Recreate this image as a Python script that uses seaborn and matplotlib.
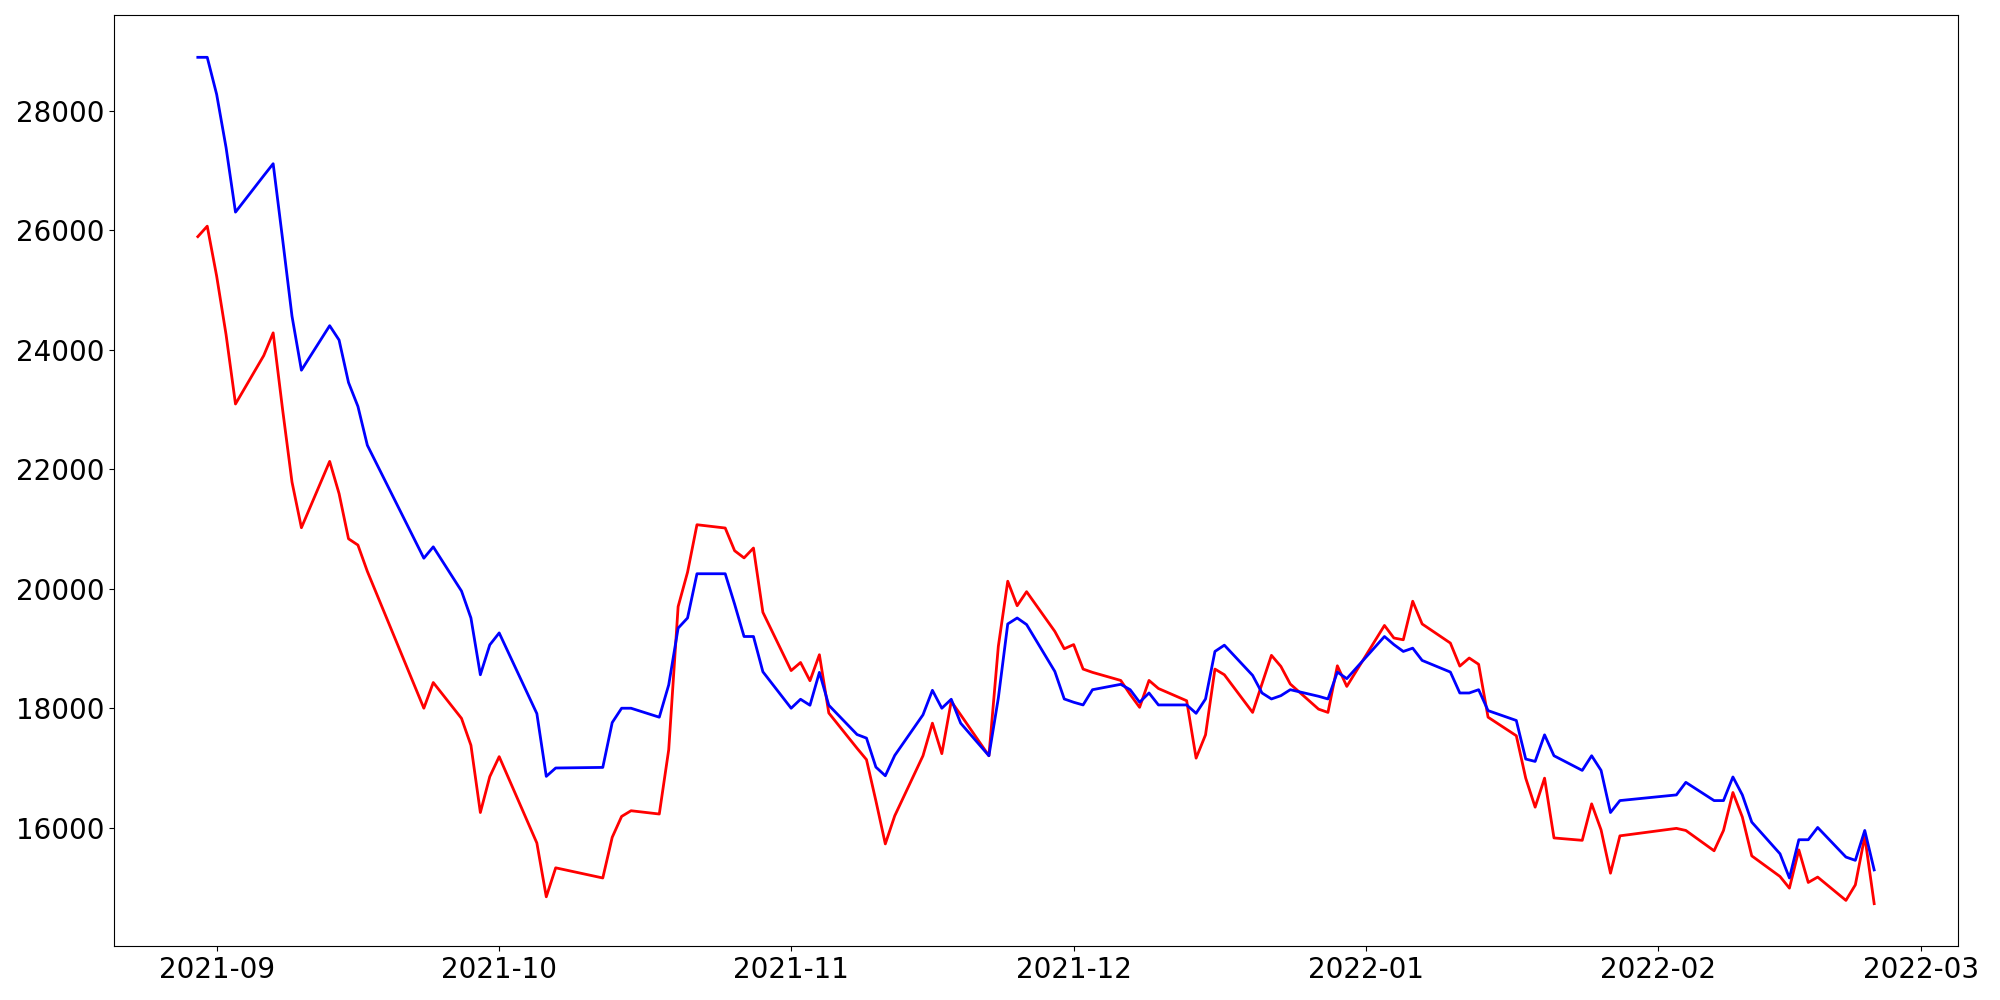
import numpy as np
import pandas as pd
import matplotlib
matplotlib.use("Agg")
import matplotlib.pyplot as plt
import seaborn as sns

# fechas (solo los puntos donde la linea cambia de direccion)
dates = [
    "2021-08-30", "2021-08-31", "2021-09-01", "2021-09-02", "2021-09-03", "2021-09-06", "2021-09-07", "2021-09-08", "2021-09-09", "2021-09-10",
    "2021-09-13", "2021-09-14", "2021-09-15", "2021-09-16", "2021-09-17", "2021-09-23", "2021-09-24", "2021-09-27", "2021-09-28", "2021-09-29", "2021-09-30",
    "2021-10-01", "2021-10-05", "2021-10-06", "2021-10-07", "2021-10-12", "2021-10-13", "2021-10-14", "2021-10-15", "2021-10-18", "2021-10-19",
    "2021-10-20", "2021-10-21", "2021-10-22", "2021-10-25", "2021-10-26", "2021-10-27", "2021-10-28", "2021-10-29",
    "2021-11-01", "2021-11-02", "2021-11-03", "2021-11-04", "2021-11-05", "2021-11-08", "2021-11-09", "2021-11-10", "2021-11-11", "2021-11-12",
    "2021-11-15", "2021-11-16", "2021-11-17", "2021-11-18", "2021-11-19", "2021-11-22", "2021-11-23", "2021-11-24", "2021-11-25", "2021-11-26",
    "2021-11-29", "2021-11-30",
    "2021-12-01", "2021-12-02", "2021-12-03", "2021-12-06", "2021-12-07", "2021-12-08", "2021-12-09", "2021-12-10", "2021-12-13", "2021-12-14",
    "2021-12-15", "2021-12-16", "2021-12-17", "2021-12-20", "2021-12-21", "2021-12-22", "2021-12-23", "2021-12-24", "2021-12-27", "2021-12-28",
    "2021-12-29", "2021-12-30",
    "2022-01-03", "2022-01-04", "2022-01-05", "2022-01-06", "2022-01-07", "2022-01-10", "2022-01-11", "2022-01-12", "2022-01-13", "2022-01-14",
    "2022-01-17", "2022-01-18", "2022-01-19", "2022-01-20", "2022-01-21", "2022-01-24", "2022-01-25", "2022-01-26", "2022-01-27", "2022-01-28",
    "2022-02-03", "2022-02-04", "2022-02-07", "2022-02-08", "2022-02-09", "2022-02-10", "2022-02-11", "2022-02-14", "2022-02-15", "2022-02-16",
    "2022-02-17", "2022-02-18", "2022-02-21", "2022-02-22", "2022-02-23", "2022-02-24",
]

blue_price = [
    28890, 28890, 28270, 27380, 26300, 26910, 27110, 25850, 24560, 23655,
    24400, 24160, 23450, 23050, 22400, 20510, 20700, 19960, 19510, 18560, 19060,
    19260, 17910, 16860, 17000, 17010, 17760, 18000, 18000, 17850, 18390,
    19340, 19510, 20250, 20250, 19740, 19200, 19200, 18610,
    18000, 18150, 18050, 18600, 18050, 17560, 17500, 17015, 16870, 17210,
    17890, 18300, 18000, 18150, 17750, 17205, 18170, 19410, 19510, 19400,
    18615, 18155,
    18100, 18055, 18310, 18400, 18310, 18100, 18255, 18055, 18055, 17915,
    18155, 18950, 19055, 18550, 18255, 18155, 18210, 18310, 18200, 18155,
    18605, 18495,
    19200, 19065, 18950, 19005, 18800, 18605, 18255, 18255, 18310, 17960,
    17795, 17150, 17110, 17555, 17205, 16960, 17205, 16960, 16255, 16455,
    16550, 16760, 16455, 16455, 16850, 16550, 16095, 15565, 15160, 15800,
    15800, 16005, 15510, 15455, 15955, 15295,
]

red_price = [
    25890, 26065, 25230, 24250, 23090, 23900, 24280, 23000, 21785, 21020,
    22130, 21590, 20835, 20730, 20290, 18000, 18430, 17830, 17380, 16255, 16855,
    17190, 15745, 14845, 15330, 15160, 15840, 16190, 16285, 16230, 17305,
    19700, 20275, 21070, 21015, 20635, 20515, 20680, 19605,
    18630, 18765, 18460, 18895, 17920, 17330, 17140, 16450, 15730, 16200,
    17205, 17750, 17240, 18115, 17890, 17205, 19035, 20125, 19715, 19950,
    19285, 18995,
    19065, 18655, 18600, 18465, 18230, 18015, 18465, 18330, 18125, 17165,
    17555, 18655, 18560, 17930, 18410, 18885, 18700, 18405, 17985, 17930,
    18710, 18365,
    19385, 19175, 19145, 19790, 19410, 19090, 18705, 18840, 18735, 17850,
    17540, 16830, 16345, 16830, 15830, 15790, 16400, 15965, 15240, 15865,
    15990, 15955, 15615, 15955, 16590, 16180, 15530, 15185, 14990, 15630,
    15085, 15175, 14785, 15045, 15855, 14730,
]

df = pd.DataFrame({"date": pd.to_datetime(dates), "red": red_price, "blue": blue_price})
df_long = df.melt(id_vars="date", var_name="serie", value_name="precio")

fig, ax = plt.subplots(figsize=(20, 10), dpi=100)
sns.lineplot(data=df_long, x="date", y="precio", hue="serie", hue_order=["red", "blue"],
             palette={"red": "red", "blue": "blue"}, linewidth=2, estimator=None,
             legend=False, ax=ax)
ax.set_xlabel("")
ax.set_ylabel("")
ax.tick_params(labelsize=20)
fig.subplots_adjust(left=0.057, right=0.979, bottom=0.054, top=0.985)
fig.savefig("out.png")
